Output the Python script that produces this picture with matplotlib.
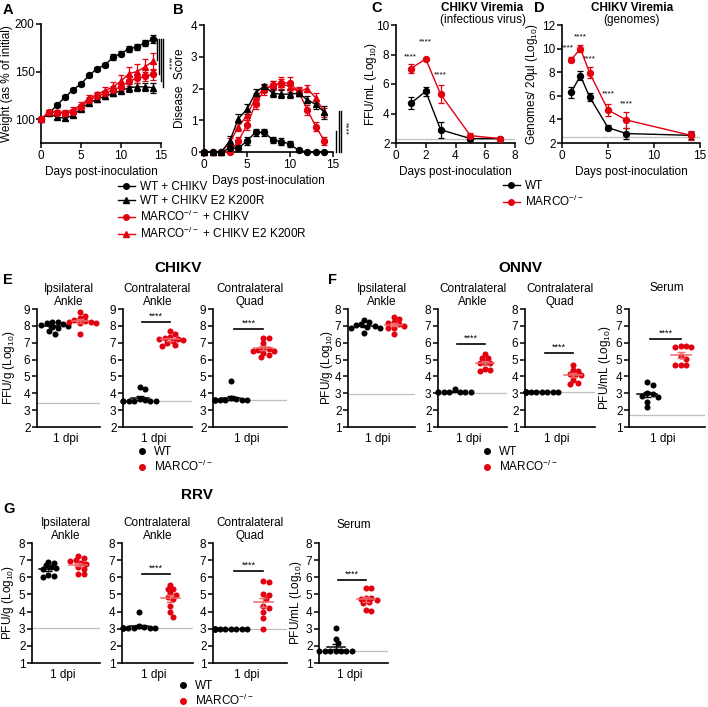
import numpy as np
import matplotlib.pyplot as plt
from matplotlib.lines import Line2D

plt.rcParams['font.family'] = ['Liberation Sans', 'DejaVu Sans']
plt.rcParams['font.size'] = 8
plt.rcParams['mathtext.default'] = 'regular'

# Colors:
black = "#000000"
red = "#e3000f"
lod_color = "#9a9a9a"

W, H = 708, 707
fig = plt.figure(figsize=(W / 100, H / 100), dpi=100)

# ---------------- data ----------------
days_ab = np.arange(15)
# A: weight (% of initial)
a_wt_chikv = [100, 106, 115, 123, 131, 137, 146, 153, 157, 165, 169, 174, 176, 180, 184]
a_wt_chikv_err = [1, 2, 2, 2, 2, 2, 2, 2, 2, 3, 3, 3, 3, 3, 4]
a_wt_e2 = [100, 106, 102, 101, 104, 111, 117, 121, 124, 127, 130, 133, 134, 134, 133]
a_wt_e2_err = [1, 2, 2, 2, 2, 2, 2, 3, 3, 3, 3, 4, 4, 4, 5]
a_ko_chikv = [100, 108, 107, 106, 108, 113, 120, 124, 127, 131, 134, 140, 143, 145, 147]
a_ko_chikv_err = [1, 2, 2, 3, 3, 3, 3, 3, 3, 4, 4, 5, 5, 5, 6]
a_ko_e2 = [100, 108, 108, 107, 110, 115, 122, 126, 130, 134, 140, 148, 150, 155, 161]
a_ko_e2_err = [1, 2, 2, 3, 3, 3, 3, 3, 4, 5, 6, 7, 8, 8, 9]

# B: disease score
b_wt_chikv = [0, 0, 0, 0.12, 0.12, 0.35, 0.62, 0.62, 0.38, 0.33, 0.25, 0.05, 0, 0, 0]
b_wt_chikv_err = [0, 0, 0, 0.08, 0.08, 0.12, 0.12, 0.12, 0.1, 0.1, 0.1, 0.05, 0, 0, 0]
b_wt_e2 = [0, 0, 0, 0.35, 1.05, 1.35, 1.87, 2.08, 1.85, 1.82, 1.82, 1.85, 1.65, 1.5, 1.25]
b_wt_e2_err = [0, 0, 0, 0.15, 0.15, 0.15, 0.1, 0.05, 0.12, 0.12, 0.12, 0.1, 0.12, 0.15, 0.2]
b_ko_chikv = [0, 0, 0, 0, 0.35, 0.85, 1.52, 1.95, 2.1, 2.17, 2.17, 1.9, 1.33, 0.8, 0.35]
b_ko_chikv_err = [0, 0, 0, 0, 0.12, 0.15, 0.15, 0.15, 0.15, 0.2, 0.2, 0.15, 0.15, 0.15, 0.12]
b_ko_e2 = [0, 0, 0, 0.3, 0.8, 1.15, 1.72, 2.0, 2.1, 2.15, 2.05, 1.9, 2.0, 1.7, 1.25]
b_ko_e2_err = [0, 0, 0, 0.15, 0.15, 0.15, 0.15, 0.12, 0.15, 0.15, 0.15, 0.12, 0.1, 0.15, 0.15]

# C: viremia (infectious virus)
c_days = [1, 2, 3, 5, 7]
c_wt = [4.7, 5.5, 2.9, 2.3, 2.3]
c_wt_err = [0.4, 0.3, 0.55, 0.05, 0.0]
c_ko = [7.05, 7.7, 5.3, 2.5, 2.3]
c_ko_err = [0.3, 0.05, 0.6, 0.15, 0.0]
c_lod = 2.3
c_star_y = [7.6, 8.6, 6.35]

# D: viremia (genomes)
d_days = [1, 2, 3, 5, 7, 14]
d_wt = [6.3, 7.7, 5.9, 3.3, 2.8, 2.65]
d_wt_err = [0.45, 0.4, 0.35, 0.2, 0.45, 0.3]
d_ko = [9.05, 10.0, 7.95, 4.8, 3.95, 2.65]
d_ko_err = [0.2, 0.3, 0.45, 0.5, 0.7, 0.4]
d_lod = 2.5
d_star_x = [0.6, 2, 3, 5, 7]
d_star_y = [9.8, 10.7, 8.8, 5.85, 5.0]

# E: CHIKV tissues
e_titles = ["Ipsilateral\nAnkle", "Contralateral\nAnkle", "Contralateral\nQuad"]
e_wt = [[8.25, 8.2, 8.15, 8.1, 8.05, 8.0, 7.95, 7.9, 7.7, 7.5],
        [4.4, 4.25, 3.65, 3.6, 3.55, 3.55, 3.55, 3.55, 3.55, 3.55],
        [4.7, 3.75, 3.65, 3.6, 3.6, 3.6, 3.6, 3.6, 3.6, 3.6]]
e_ko = [[8.8, 8.6, 8.45, 8.35, 8.3, 8.25, 8.2, 8.15, 8.15, 7.5],
        [7.7, 7.5, 7.35, 7.3, 7.25, 7.2, 7.15, 7.1, 7.0, 6.85, 6.8],
        [7.3, 7.3, 7.0, 6.7, 6.6, 6.55, 6.5, 6.5, 6.4, 6.3, 6.15]]
e_lod = [3.45, 3.55, 3.58]
e_bar = [None, 8.2, 7.8]

# F: ONNV tissues
f_titles = ["Ipsilateral\nAnkle", "Contralateral\nAnkle", "Contralateral\nQuad", "Serum"]
f_wt = [[7.35, 7.2, 7.1, 7.05, 7.0, 6.95, 6.9, 6.85, 6.6],
        [3.25, 3.1, 3.05, 3.05, 3.05, 3.05, 3.05, 3.05],
        [3.1, 3.1, 3.1, 3.1, 3.1, 3.1, 3.1, 3.1, 3.1, 3.1],
        [3.65, 3.5, 3.0, 2.95, 2.85, 2.8, 2.5, 2.2]]
f_ko = [[7.55, 7.4, 7.2, 7.15, 7.1, 7.0, 6.9, 6.85, 6.5],
        [5.35, 5.1, 5.1, 4.85, 4.8, 4.8, 4.45, 4.4, 4.3],
        [4.7, 4.4, 4.35, 4.15, 4.1, 4.1, 3.8, 3.6, 3.55],
        [5.8, 5.8, 5.75, 5.75, 5.2, 5.05, 4.65, 4.65, 4.7]]
f_lod = [2.95, 3.0, 3.1, 1.7]
f_bar = [None, 5.9, 5.4, 6.2]

# G: RRV tissues
g_titles = ["Ipsilateral\nAnkle", "Contralateral\nAnkle", "Contralateral\nQuad", "Serum"]
g_wt = [[6.9, 6.85, 6.7, 6.6, 6.55, 6.5, 6.15, 6.1, 6.0],
        [3.95, 3.15, 3.1, 3.05, 3.05, 3.05, 3.05, 3.05, 3.05, 3.05],
        [3.0, 3.0, 3.0, 3.0, 3.0, 3.0, 3.0, 3.0, 3.0, 3.0],
        [3.05, 2.4, 2.15, 1.7, 1.7, 1.7, 1.7, 1.7, 1.7, 1.7]]
g_ko = [[7.25, 7.1, 7.0, 6.95, 6.85, 6.8, 6.6, 6.5, 6.2, 6.2],
        [5.55, 5.3, 5.3, 5.1, 4.95, 4.85, 4.75, 4.3, 3.95, 3.7],
        [5.8, 5.7, 5.0, 4.95, 4.75, 4.35, 4.2, 4.0, 3.6, 3.0],
        [5.4, 5.4, 4.8, 4.8, 4.75, 4.7, 4.55, 4.5, 4.1, 4.05]]
g_lod = [3.05, 3.05, 3.0, 1.7]
g_bar = [None, 6.2, 6.35, 5.85]


# ---------------- helpers ----------------
def add_ax(x0, y0, x1, y1):
    a = fig.add_axes([x0 / W, 1 - y1 / H, (x1 - x0) / W, (y1 - y0) / H])
    a.patch.set_alpha(0)
    for s in ["top", "right"]:
        a.spines[s].set_visible(False)
    for s in ["left", "bottom"]:
        a.spines[s].set_linewidth(1.2)
    a.tick_params(width=1.1, length=3.5, labelsize=8.5, pad=1.2)
    a._px = (x0, x1)
    return a


def ylab(a, text, xpix):
    # put the y label centre at a given pixel column
    x0, x1 = a._px
    a.set_ylabel(text, fontsize=8.5)
    a.yaxis.label.set_va("center")
    a.yaxis.set_label_coords((xpix - x0) / (x1 - x0), 0.5)


def ftext(x, y, s, **kw):
    fig.text(x / W, 1 - y / H, s, **kw)


def line_series(a, x, y, err, color, marker):
    a.errorbar(x, y, yerr=err, color=color, marker=marker, ms=4.3, lw=1,
               elinewidth=0.9, capsize=2, capthick=0.9, clip_on=False, zorder=3)


def swarm(vals, center, a, d_px=5.4):
    # simple beeswarm: shift points sideways until they don't overlap
    bb = a.get_position()
    w_px, h_px = bb.width * W, bb.height * H
    x0, x1 = a.get_xlim()
    y0, y1 = a.get_ylim()
    placed = []
    xs = []
    for v in vals:
        yp = (v - y0) / (y1 - y0) * h_px
        for k in [0, 1, -1, 2, -2, 3, -3, 4, -4, 5, -5, 6, -6]:
            xp = k * d_px * 0.5
            if all((xp - px) ** 2 + (yp - py) ** 2 >= (d_px * 0.8) ** 2 for px, py in placed):
                break
        placed.append((xp, yp))
        xs.append(center + xp / w_px * (x1 - x0))
    return xs


def dot_panel(rect, wt, ko, lod, bar, title, ylim, ylabel=None, ylabel_x=None, title_pad=3):
    a = add_ax(*rect)
    a.set_xlim(0, 1)
    a.set_ylim(*ylim)
    a.set_yticks(np.arange(ylim[0], ylim[1] + 1))
    a.set_xticks([0.45])
    a.set_xticklabels(["1 dpi"], fontsize=8.5)
    a.tick_params(axis="x", length=0, pad=4)
    a.axhline(lod, color=lod_color, lw=0.9, ls=(0, (1, 0.6)), zorder=1)
    for vals, c, cx in [(wt, black, 0.24), (ko, red, 0.68)]:
        xs = swarm(vals, cx, a)
        a.scatter(xs, vals, s=19, color=c, zorder=3, linewidths=0, clip_on=False)
        m = np.mean(vals)
        sem = np.std(vals, ddof=1) / np.sqrt(len(vals))
        mc = black if c == black else "#ef6a6a"
        a.plot([cx - 0.13, cx + 0.13], [m, m], color=mc, lw=1.1, zorder=4)
        a.errorbar([cx], [m], yerr=[sem], color=mc, lw=0, elinewidth=1,
                   capsize=3, capthick=1, zorder=4)
    if bar is not None:
        a.plot([0.28, 0.68], [bar, bar], color=black, lw=1.2, clip_on=False)
        a.text(0.48, bar + 0.08, "****", ha="center", va="bottom", fontsize=6.5)
    a.set_title(title, fontsize=8.5, pad=title_pad, linespacing=1.1)
    if ylabel:
        ylab(a, ylabel, ylabel_x)
    return a


# ---------------- A ----------------
axA = add_ax(41, 24, 161, 143)
axA.set_xlim(0, 15)
axA.set_ylim(75, 200)
axA.set_xticks([0, 5, 10, 15])
axA.set_yticks([100, 150, 200])
line_series(axA, days_ab, a_wt_chikv, a_wt_chikv_err, black, "o")
line_series(axA, days_ab, a_wt_e2, a_wt_e2_err, black, "^")
line_series(axA, days_ab, a_ko_chikv, a_ko_chikv_err, red, "o")
line_series(axA, days_ab, a_ko_e2, a_ko_e2_err, red, "^")
for bx, lo in zip([14.55, 14.8, 15.05, 15.3], [162, 147, 140, 134]):
    axA.plot([bx, bx], [lo, 184], color=black, lw=1, clip_on=False)
axA.text(15.9, 158, "****", rotation=270, ha="center", va="center", fontsize=6)
axA.set_xlabel("Days post-inoculation", fontsize=8.5, labelpad=3)
ylab(axA, "Weight (as % of initial)", 7)

# ---------------- B ----------------
axB = add_ax(204, 25, 333, 152)
axB.set_xlim(0, 15)
axB.set_ylim(0, 4)
axB.set_xticks([0, 5, 10, 15])
axB.set_yticks([0, 1, 2, 3, 4])
line_series(axB, days_ab, b_ko_chikv, b_ko_chikv_err, red, "o")
line_series(axB, days_ab, b_ko_e2, b_ko_e2_err, red, "^")
line_series(axB, days_ab, b_wt_chikv, b_wt_chikv_err, black, "o")
line_series(axB, days_ab, b_wt_e2, b_wt_e2_err, black, "^")
for bx, hi in zip([15.4, 15.65, 15.9], [0.65, 1.3, 1.3]):
    axB.plot([bx, bx], [0, hi], color=black, lw=1, clip_on=False)
axB.text(16.35, 0.75, "****", rotation=270, ha="center", va="center", fontsize=6)
axB.set_xlabel("Days post-inoculation", fontsize=8.5, labelpad=3)
ylab(axB, "Disease  Score", 180)

# ---------------- C ----------------
axC = add_ax(396, 25, 515, 143)
axC.set_xlim(0, 8)
axC.set_ylim(2, 10)
axC.set_xticks([0, 2, 4, 6, 8])
axC.set_yticks([2, 4, 6, 8, 10])
axC.axhline(c_lod, color=lod_color, lw=0.9, ls=(0, (1, 0.6)), zorder=1)
line_series(axC, c_days, c_wt, c_wt_err, black, "o")
line_series(axC, c_days, c_ko, c_ko_err, red, "o")
for cx, cy in zip(c_days[:3], c_star_y):
    axC.text(cx, cy, "****", ha="center", va="bottom", fontsize=6)
axC.set_xlabel("Days post-inoculation", fontsize=8.5, labelpad=3)
ylab(axC, "FFU/mL (Log$_{10}$)", 371)
ftext(482, 8, "CHIKV Viremia", ha="center", va="center", fontsize=8.5, fontweight="bold")
ftext(483, 20, "(infectious virus)", ha="center", va="center", fontsize=8.5)

# ---------------- D ----------------
axD = add_ax(562, 25, 700, 143)
axD.set_xlim(0, 15)
axD.set_ylim(2, 12)
axD.set_xticks([0, 5, 10, 15])
axD.set_yticks([2, 4, 6, 8, 10, 12])
axD.axhline(d_lod, color=lod_color, lw=0.9, ls=(0, (1, 0.6)), zorder=1)
line_series(axD, d_days, d_wt, d_wt_err, black, "o")
line_series(axD, d_days, d_ko, d_ko_err, red, "o")
for cx, cy in zip(d_star_x, d_star_y):
    axD.text(cx, cy, "****", ha="center", va="bottom", fontsize=6)
axD.set_xlabel("Days post-inoculation", fontsize=8.5, labelpad=3)
ylab(axD, "Genomes/ 20\u00b5l (Log$_{10}$)", 532)
ftext(632, 8, "CHIKV Viremia", ha="center", va="center", fontsize=8.5, fontweight="bold")
ftext(632, 20, "(genomes)", ha="center", va="center", fontsize=8.5)

# legends for A-D
h4 = [Line2D([], [], color=black, marker="o", ms=4, lw=1),
      Line2D([], [], color=black, marker="^", ms=4, lw=1),
      Line2D([], [], color=red, marker="o", ms=4, lw=1),
      Line2D([], [], color=red, marker="^", ms=4, lw=1)]
l4 = ["WT + CHIKV", "WT + CHIKV E2 K200R",
      "MARCO$^{-/-}$ + CHIKV", "MARCO$^{-/-}$ + CHIKV E2 K200R"]
fig.legend(h4, l4, loc="upper left", bbox_to_anchor=(118 / W, 1 - 181 / H),
           frameon=False, fontsize=8.5, handlelength=1.4, handletextpad=0.5,
           labelspacing=0.15, borderaxespad=0, borderpad=0)
h2 = [Line2D([], [], color=black, marker="o", ms=4, lw=1),
      Line2D([], [], color=red, marker="o", ms=4, lw=1)]
fig.legend(h2, ["WT", "MARCO$^{-/-}$"], loc="upper left",
           bbox_to_anchor=(503 / W, 1 - 180 / H), frameon=False, fontsize=8.5,
           handlelength=1.4, handletextpad=0.5, labelspacing=0.15,
           borderaxespad=0, borderpad=0)

# ---------------- E ----------------
e_rects = [(37, 309, 100, 427), (123, 309, 192, 427), (213, 309, 287, 427)]
for i, r in enumerate(e_rects):
    dot_panel(r, e_wt[i], e_ko[i], e_lod[i], e_bar[i], e_titles[i], (2, 9),
              ylabel="FFU/g (Log$_{10}$)" if i == 0 else None, ylabel_x=9)

# ---------------- F ----------------
f_rects = [(348, 309, 415, 427), (438, 309, 507, 427), (525, 309, 595, 427), (629, 309, 705, 427)]
f_ylx = [327, None, None, 605]
for i, r in enumerate(f_rects):
    yl = "PFU/g (Log$_{10}$)" if i == 0 else ("PFU/mL (Log$_{10}$)" if i == 3 else None)
    dot_panel(r, f_wt[i], f_ko[i], f_lod[i], f_bar[i], f_titles[i], (1, 8),
              ylabel=yl, ylabel_x=f_ylx[i], title_pad=13 if i == 3 else 3)

# ---------------- G ----------------
g_rects = [(32, 543, 100, 663), (122, 543, 193, 663), (213, 543, 287, 663), (319, 543, 388, 663)]
g_ylx = [8, None, None, 296]
for i, r in enumerate(g_rects):
    yl = "PFU/g (Log$_{10}$)" if i == 0 else ("PFU/mL (Log$_{10}$)" if i == 3 else None)
    dot_panel(r, g_wt[i], g_ko[i], g_lod[i], g_bar[i], g_titles[i], (1, 8),
              ylabel=yl, ylabel_x=g_ylx[i], title_pad=11 if i == 3 else 3)

# scatter legends
hs = [Line2D([], [], color=black, marker="o", ms=4, ls=""),
      Line2D([], [], color=red, marker="o", ms=4, ls="")]
ls_ = ["WT", "MARCO$^{-/-}$"]
for lx, ly in [(137, 446), (482, 446), (178, 680)]:
    fig.legend(hs, ls_, loc="upper left", bbox_to_anchor=(lx / W, 1 - ly / H),
               frameon=False, fontsize=8.5, handlelength=0.8, handletextpad=0.6,
               labelspacing=0.1, borderaxespad=0, borderpad=0)

# group titles and panel letters
ftext(178, 268, "CHIKV", ha="center", va="center", fontsize=11, fontweight="bold")
ftext(520, 268, "ONNV", ha="center", va="center", fontsize=11, fontweight="bold")
ftext(197, 495, "RRV", ha="center", va="center", fontsize=11, fontweight="bold")
for letter, lx, ly in [("A", 3, 10), ("B", 173, 10), ("C", 371, 8), ("D", 534, 8),
                       ("E", 3, 280), ("F", 328, 280), ("G", 3, 509)]:
    ftext(lx, ly, letter, ha="left", va="center", fontsize=10.5, fontweight="bold")

fig.savefig("out.png", dpi=100)
